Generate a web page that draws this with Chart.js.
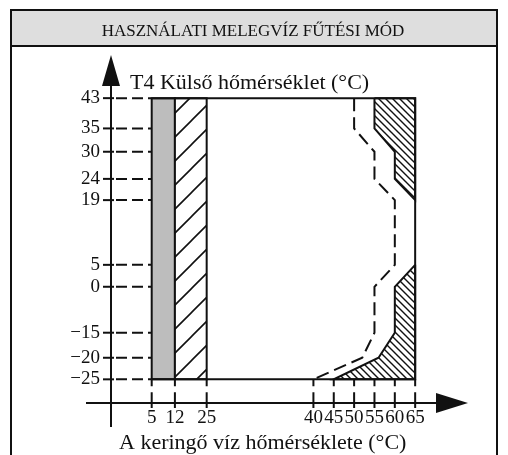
<!DOCTYPE html>
<html>
<head>
<meta charset="utf-8">
<script src="https://cdn.jsdelivr.net/npm/chart.js@4.4.1/dist/chart.umd.min.js"></script>
<style>
  html, body { margin: 0; padding: 0; background: #fff; }
  #wrap { width: 508px; height: 455px; }
</style>
</head>
<body>
<div id="wrap"><canvas id="chart"></canvas></div>
<script>
const TITLE = 'HASZNÁLATI MELEGVÍZ FŰTÉSI MÓD';
const Y_TITLE = 'T4 Külső hőmérséklet (°C)';
const X_TITLE = 'A keringő víz hőmérséklete (°C)';

// tick labels
const X_TICKS = [5, 12, 25, 40, 45, 50, 55, 60, 65];
const Y_TICKS = [43, 35, 30, 24, 19, 5, 0, -15, -20, -25];

// ranges
const T4_RANGE = [-25, 43];
const GRAY_BAND = [5, 12];
const LINE_BAND = [12, 25];
const WATER_MAX = 65;

// dashed limit line
const DASH_X = [50, 50, 55, 55, 60, 60, 55, 55, 52, 40];
const DASH_Y = [43, 35, 30, 24, 19, 5, 0, -15, -20, -25];

// hatched areas at the right
const TOP_HATCH_X = [55, 55, 60, 60, 65, 65];
const TOP_HATCH_Y = [43, 35, 30, 24, 19, 43];
const LOW_HATCH_X = [65, 60, 60, 56, 45, 65];
const LOW_HATCH_Y = [5, 0, -15, -20, -25, -25];

// the drawing is not to scale: where the values sit along each axis (0..1)
const WARPS = {
  x: { at: [0, 5, 12, 25, 40, 65, 78], frac: [0, .114, .179, .268, .567, .852, 1] },
  y: { at: [-30, -25, -20, -15, 0, 5, 19, 24, 30, 35, 43, 53.5],
       frac: [0, .068, .130, .202, .334, .397, .583, .644, .722, .789, .876, 1] }
};

class WarpScale extends Chart.LinearScale {
  static id = 'warp';
  determineDataLimits() {
    const w = WARPS[this.axis];
    this.min = w.at[0];
    this.max = w.at[w.at.length - 1];
  }
  buildTicks() {
    return (this.axis === 'x' ? X_TICKS : Y_TICKS).map(v => ({ value: v }));
  }
  getPixelForValue(value) {
    const { at, frac } = WARPS[this.axis];
    let i = 1;
    while (i < at.length - 1 && value > at[i]) i++;
    const t = (value - at[i - 1]) / (at[i] - at[i - 1]);
    return this.getPixelForDecimal(frac[i - 1] + t * (frac[i] - frac[i - 1]));
  }
  getValueForPixel(pixel) {
    const { at, frac } = WARPS[this.axis];
    const d = this.getDecimalForPixel(pixel);
    let i = 1;
    while (i < frac.length - 1 && d > frac[i]) i++;
    const t = (d - frac[i - 1]) / (frac[i] - frac[i - 1]);
    return at[i - 1] + t * (at[i] - at[i - 1]);
  }
}
Chart.register(WarpScale);

const zip = (xs, ys) => xs.map((x, i) => ({ x, y: ys[i] }));
const closed = pts => pts.concat([pts[0]]);
const rect = (xr, yr) => closed([
  { x: xr[0], y: yr[0] }, { x: xr[0], y: yr[1] }, { x: xr[1], y: yr[1] }, { x: xr[1], y: yr[0] }
]);

function hatch(size, slash, width) {
  const c = document.createElement('canvas');
  c.width = c.height = size;
  const g = c.getContext('2d');
  g.fillStyle = '#fff';
  g.fillRect(0, 0, size, size);
  g.strokeStyle = '#111';
  g.lineWidth = width;
  g.beginPath();
  if (slash) {
    g.moveTo(-1, size + 1); g.lineTo(size + 1, -1);
    g.moveTo(-2, 2); g.lineTo(2, -2);
    g.moveTo(size - 2, size + 2); g.lineTo(size + 2, size - 2);
  } else {
    g.moveTo(-1, -1); g.lineTo(size + 1, size + 1);
    g.moveTo(size - 2, -2); g.lineTo(size + 2, 2);
    g.moveTo(-2, size - 2); g.lineTo(2, size + 2);
  }
  g.stroke();
  return g.createPattern(c, 'repeat');
}

const INK = '#111';
const SERIF = '"Liberation Serif", "DejaVu Serif", serif';

const base = { borderColor: INK, borderWidth: 2, pointRadius: 0, tension: 0, clip: false, borderJoinStyle: 'miter' };

const decor = {
  id: 'decor',
  beforeDraw(chart) {
    const ctx = chart.ctx;
    ctx.save();
    ctx.fillStyle = '#fff';
    ctx.fillRect(0, 0, chart.width, chart.height);
    ctx.fillStyle = '#dedede';
    ctx.fillRect(11, 10, 486, 36);
    ctx.strokeStyle = INK;
    ctx.lineWidth = 2;
    ctx.beginPath();
    ctx.moveTo(11, 470); ctx.lineTo(11, 10); ctx.lineTo(497, 10); ctx.lineTo(497, 470);
    ctx.moveTo(11, 46); ctx.lineTo(497, 46);
    ctx.stroke();
    ctx.fillStyle = INK;
    ctx.font = '17px ' + SERIF;
    ctx.textAlign = 'center';
    ctx.textBaseline = 'alphabetic';
    ctx.fillText(TITLE, 253, 36);
    ctx.restore();
  },
  afterDraw(chart) {
    const { ctx } = chart;
    const xs = chart.scales.x, ys = chart.scales.y;
    const ax = xs.getPixelForValue(xs.min);
    const ay = ys.getPixelForValue(ys.min);
    const top = ys.getPixelForValue(ys.max);
    const right = xs.getPixelForValue(xs.max);
    const x5 = xs.getPixelForValue(GRAY_BAND[0]);
    const yLow = ys.getPixelForValue(T4_RANGE[0]);
    ctx.save();
    ctx.strokeStyle = INK;
    ctx.fillStyle = INK;
    ctx.lineWidth = 2;

    // axes
    ctx.beginPath();
    ctx.moveTo(ax, top + 28); ctx.lineTo(ax, ay + 24);
    ctx.moveTo(ax - 25, ay); ctx.lineTo(right - 30, ay);
    ctx.stroke();
    ctx.beginPath();
    ctx.moveTo(ax, top); ctx.lineTo(ax + 9, top + 31); ctx.lineTo(ax - 9, top + 31); ctx.closePath();
    ctx.moveTo(right, ay); ctx.lineTo(right - 32, ay - 10); ctx.lineTo(right - 32, ay + 10); ctx.closePath();
    ctx.fill();

    // tick marks and dashed guides
    Y_TICKS.forEach(v => {
      const y = ys.getPixelForValue(v);
      ctx.setLineDash([]);
      ctx.beginPath(); ctx.moveTo(ax - 8, y); ctx.lineTo(ax + 3, y); ctx.stroke();
      ctx.setLineDash([11, 5]);
      ctx.beginPath(); ctx.moveTo(ax + 5, y); ctx.lineTo(x5, y); ctx.stroke();
    });
    X_TICKS.forEach(v => {
      const x = xs.getPixelForValue(v);
      ctx.setLineDash([7, 6]);
      ctx.beginPath(); ctx.moveTo(x, yLow); ctx.lineTo(x, ay - 4); ctx.stroke();
      ctx.setLineDash([]);
      ctx.beginPath(); ctx.moveTo(x, ay - 4); ctx.lineTo(x, ay + 5); ctx.stroke();
    });

    // axis titles
    ctx.font = '22px ' + SERIF;
    ctx.textAlign = 'left';
    ctx.textBaseline = 'alphabetic';
    ctx.fillText(Y_TITLE, 130, 89);
    ctx.fillText(X_TITLE, 119, 449);
    ctx.restore();
  }
};

const tickFont = { family: SERIF, size: 19 };
const fmt = v => (v < 0 ? '\u2212' + Math.abs(v) : String(v));

new Chart(document.getElementById('chart'), {
  type: 'line',
  data: {
    datasets: [
      { ...base, data: zip(DASH_X, DASH_Y), borderDash: [13, 6], fill: false },
      { ...base, data: [
          { x: GRAY_BAND[0], y: T4_RANGE[1] }, { x: WATER_MAX, y: T4_RANGE[1] },
          { x: WATER_MAX, y: T4_RANGE[0] }, { x: GRAY_BAND[0], y: T4_RANGE[0] }
        ], fill: false },
      { ...base, data: closed(zip(TOP_HATCH_X, TOP_HATCH_Y)), fill: 'shape', backgroundColor: hatch(7, false, 1.4) },
      { ...base, data: closed(zip(LOW_HATCH_X, LOW_HATCH_Y)), fill: 'shape', backgroundColor: hatch(7, false, 1.4) },
      { ...base, data: rect(LINE_BAND, T4_RANGE), fill: 'shape', backgroundColor: hatch(24, true, 1.6) },
      { ...base, data: rect(GRAY_BAND, T4_RANGE), fill: 'shape', backgroundColor: '#bdbdbd' }
    ]
  },
  options: {
    responsive: true,
    maintainAspectRatio: false,
    animation: false,
    events: [],
    layout: { padding: { top: 55, right: 40, left: 0, bottom: 0 } },
    plugins: { legend: { display: false }, tooltip: { enabled: false } },
    scales: {
      x: {
        type: 'warp',
        afterFit: s => { s.height = 52; },
        grid: { display: false, drawTicks: false },
        border: { display: false },
        ticks: { autoSkip: false, maxRotation: 0, minRotation: 0, padding: 4, color: INK, font: tickFont, callback: fmt }
      },
      y: {
        type: 'warp',
        afterFit: s => { s.width = 111; },
        grid: { display: false, drawTicks: false },
        border: { display: false },
        ticks: { autoSkip: false, padding: 11, color: INK, font: tickFont, callback: fmt }
      }
    }
  },
  plugins: [decor]
});
</script>
</body>
</html>
